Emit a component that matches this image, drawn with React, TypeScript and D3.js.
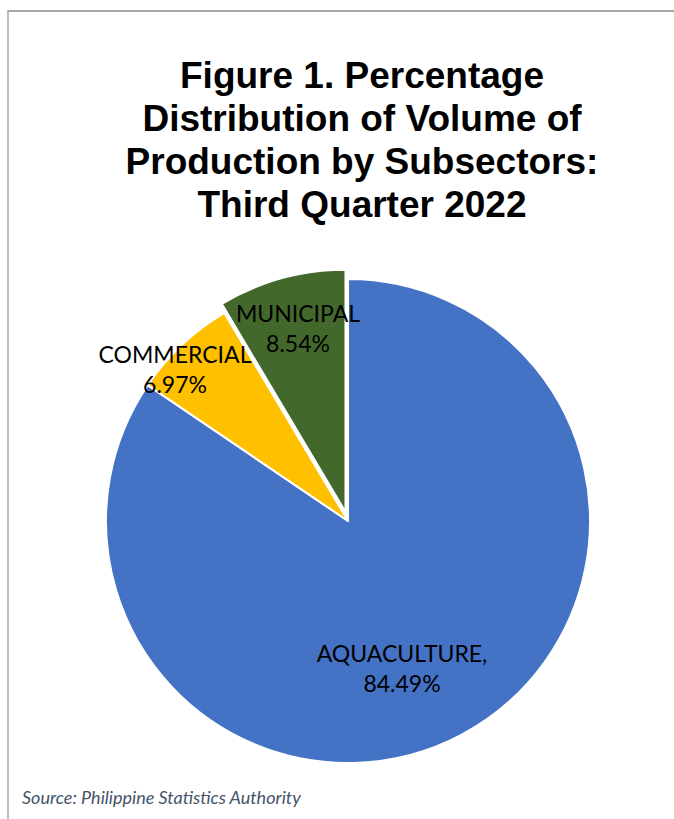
import React from "react";
import * as d3 from "d3";

const categories = ["AQUACULTURE", "COMMERCIAL", "MUNICIPAL"];
const values = [84.49, 6.97, 8.54];
const valueLabels = ["84.49%", "6.97%", "8.54%"];
const colors = ["#4472C4", "#FFC000", "#43682B"];
const exploded = [false, false, true];
const titleLines = [
  "Figure 1. Percentage",
  "Distribution of Volume of",
  "Production by Subsectors:",
  "Third Quarter 2022",
];
const sourceText = "Source: Philippine Statistics Authority";

const W = 674;
const H = 819;
const CX = 348;
const CY = 521;
const R = 242;
const EXPLODE = 9.5;
// label anchor offsets from pie centre (layout only)
const labelPos: [number, number][] = [
  [54, 141],
  [-173, -158],
  [-50, -199],
];

export default function App() {
  const pie = d3
    .pie<number>()
    .sort(null)
    .value((d) => d)
    .startAngle(0)
    .endAngle(2 * Math.PI);
  const arcs = pie(values);
  const arc = d3.arc<d3.PieArcDatum<number>>().innerRadius(0).outerRadius(R);

  return (
    <div style={{ position: "absolute", left: 0, top: 0 }}>
      <svg width={W} height={H} style={{ display: "block" }}>
        <rect x={0} y={0} width={W} height={H} fill="#ffffff" />
        <line x1={8} y1={11} x2={W} y2={11} stroke="#A6A6A6" strokeWidth={2} />
        <line x1={8} y1={10} x2={8} y2={H} stroke="#A6A6A6" strokeWidth={1.5} />
        <g
          fontFamily="'Liberation Sans', Arial, sans-serif"
          fontWeight="bold"
          fontSize={37}
          textAnchor="middle"
          fill="#000"
        >
          {titleLines.map((t, i) => (
            <text key={i} x={362} y={88 + i * 43}>
              {t}
            </text>
          ))}
        </g>
        <g transform={`translate(${CX},${CY})`}>
          {arcs.map((a, i) => {
            const mid = (a.startAngle + a.endAngle) / 2;
            const off = exploded[i] ? EXPLODE : 0;
            const dx = Math.sin(mid) * off;
            const dy = -Math.cos(mid) * off;
            return (
              <path
                key={categories[i]}
                d={arc(a) || ""}
                transform={`translate(${dx},${dy})`}
                fill={colors[i]}
                stroke="#ffffff"
                strokeWidth={2}
                strokeLinejoin="round"
              />
            );
          })}
          <g fontFamily="Lato, 'Open Sans', sans-serif" fontSize={23} textAnchor="middle" fill="#000">
            {arcs.map((a, i) => {
              const [lx, ly] = labelPos[i];
              const name = i === 0 ? categories[i] + "," : categories[i];
              return (
                <text key={categories[i]} x={lx}>
                  <tspan x={lx} y={ly}>
                    {name}
                  </tspan>
                  <tspan x={lx} y={ly + 30}>
                    {valueLabels[i]}
                  </tspan>
                </text>
              );
            })}
          </g>
        </g>
        <text
          x={22}
          y={804}
          fontFamily="Lato, 'Open Sans', sans-serif"
          fontStyle="italic"
          fontSize={18}
          fill="#44546A"
        >
          {sourceText}
        </text>
      </svg>
    </div>
  );
}
